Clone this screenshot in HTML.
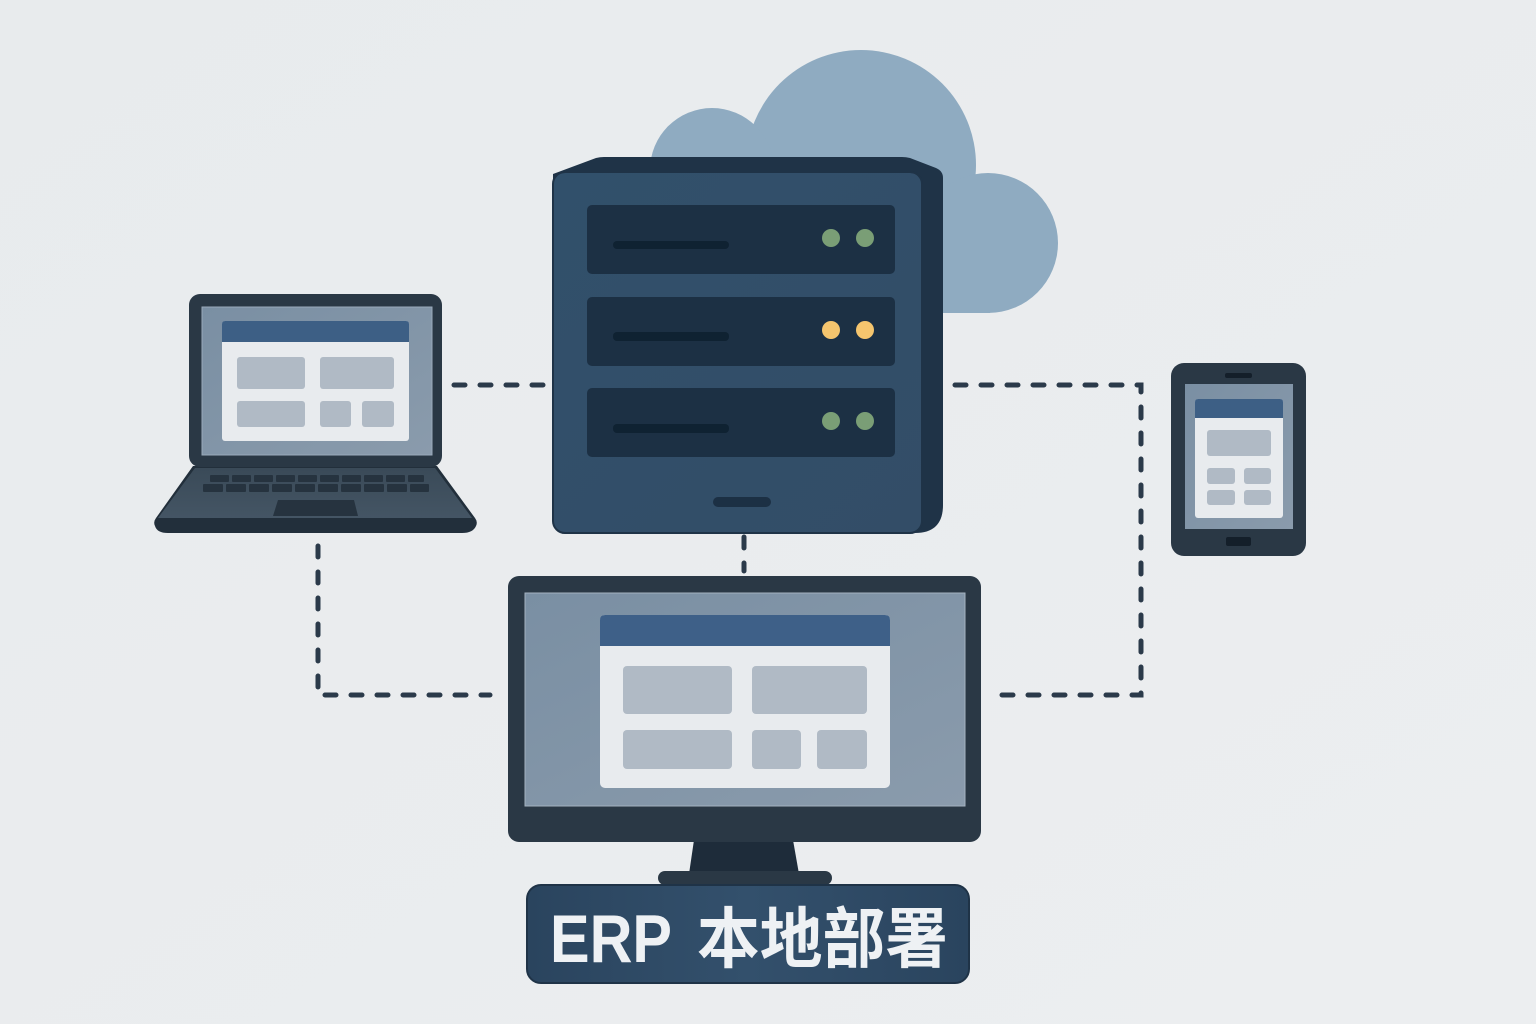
<!DOCTYPE html>
<html><head><meta charset="utf-8"><style>
html,body{margin:0;padding:0;background:#e9eced;}
svg{display:block;}
</style></head><body>
<svg width="1536" height="1024" viewBox="0 0 1536 1024" xmlns="http://www.w3.org/2000/svg">
<defs>
<linearGradient id="bg" x1="0" y1="0" x2="1" y2="1"><stop offset="0" stop-color="#e8ebed"/><stop offset="1" stop-color="#eceef0"/></linearGradient>
<linearGradient id="scr" x1="0" y1="0" x2="1" y2="1"><stop offset="0" stop-color="#7a8fa3"/><stop offset="1" stop-color="#8a9bac"/></linearGradient>
<linearGradient id="face" x1="0" y1="0" x2="1" y2="1"><stop offset="0" stop-color="#31506b"/><stop offset="1" stop-color="#334d67"/></linearGradient>
<linearGradient id="lbl" x1="0" y1="0" x2="1" y2="0"><stop offset="0" stop-color="#2a445e"/><stop offset="0.5" stop-color="#33506c"/><stop offset="1" stop-color="#2a445e"/></linearGradient>
<linearGradient id="kb" x1="0" y1="0" x2="0" y2="1"><stop offset="0" stop-color="#3a4a58"/><stop offset="1" stop-color="#445564"/></linearGradient>
</defs>
<rect width="1536" height="1024" fill="url(#bg)"/>

<!-- cloud -->
<g fill="#8fabc1">
<circle cx="861" cy="165" r="115"/>
<circle cx="712" cy="170" r="62"/>
<circle cx="988" cy="243" r="70"/>
<rect x="650" y="200" width="340" height="113"/>
</g>

<!-- dashed connectors -->
<g fill="none" stroke="#2b3a4a" stroke-width="5" stroke-linecap="round" stroke-dasharray="11 15">
<path d="M454 385 H543"/>
<path d="M955 385 H1141 V695 H995"/>
<path d="M318 546 V695 H490"/>
<path d="M744 537 V571"/>
</g>

<!-- server -->
<path d="M553 174 L596 158 Q600 157 604 157 L902 157 Q906 157 910 158 L936 168 Q943 171 943 178 L943 505 Q943 533 915 533 L565 533 Q553 533 553 521 Z" fill="#1f3347"/>
<rect x="553" y="173" width="369" height="360" rx="12" fill="url(#face)"/>
<rect x="553" y="172" width="369" height="361" rx="12" fill="none" stroke="#1f3347" stroke-width="2"/>
<g fill="#1c3044">
<rect x="587" y="205" width="308" height="69" rx="5"/>
<rect x="587" y="297" width="308" height="69" rx="5"/>
<rect x="587" y="388" width="308" height="69" rx="5"/>
<rect x="713" y="497" width="58" height="10" rx="5"/>
</g>
<g fill="#0f2232">
<rect x="613" y="241" width="116" height="8" rx="4"/>
<rect x="613" y="332" width="116" height="9" rx="4"/>
<rect x="613" y="424" width="116" height="9" rx="4"/>
</g>
<g>
<circle cx="831" cy="238" r="9" fill="#7a9e76"/><circle cx="865" cy="238" r="9" fill="#7a9e76"/>
<circle cx="831" cy="330" r="9" fill="#f5c56e"/><circle cx="865" cy="330" r="9" fill="#f5c56e"/>
<circle cx="831" cy="421" r="9" fill="#7a9e76"/><circle cx="865" cy="421" r="9" fill="#7a9e76"/>
</g>

<!-- laptop -->
<path d="M193 466 L437 466 L475 518 Q478 522 476 526 Q473 533 462 533 L168 533 Q157 533 155 526 Q153 522 156 518 Z" fill="#222f3b"/>
<path d="M195 468 L435 468 L472 518 L158 518 Z" fill="url(#kb)"/>
<g fill="#26333f">
<rect x="210" y="475" width="19" height="7" rx="1"/><rect x="232" y="475" width="19" height="7" rx="1"/><rect x="254" y="475" width="19" height="7" rx="1"/><rect x="276" y="475" width="19" height="7" rx="1"/><rect x="298" y="475" width="19" height="7" rx="1"/><rect x="320" y="475" width="19" height="7" rx="1"/><rect x="342" y="475" width="19" height="7" rx="1"/><rect x="364" y="475" width="19" height="7" rx="1"/><rect x="386" y="475" width="19" height="7" rx="1"/><rect x="408" y="475" width="16" height="7" rx="1"/>
<rect x="203" y="484" width="20" height="8" rx="1"/><rect x="226" y="484" width="20" height="8" rx="1"/><rect x="249" y="484" width="20" height="8" rx="1"/><rect x="272" y="484" width="20" height="8" rx="1"/><rect x="295" y="484" width="20" height="8" rx="1"/><rect x="318" y="484" width="20" height="8" rx="1"/><rect x="341" y="484" width="20" height="8" rx="1"/><rect x="364" y="484" width="20" height="8" rx="1"/><rect x="387" y="484" width="20" height="8" rx="1"/><rect x="410" y="484" width="19" height="8" rx="1"/>
<path d="M278 500 L354 500 L358 516 L273 516 Z"/>
</g>
<rect x="189" y="294" width="253" height="173" rx="11" fill="#2a3845"/>
<rect x="202" y="307" width="230" height="148" fill="url(#scr)" stroke="#9aaabb" stroke-width="1"/>
<rect x="222" y="321" width="187" height="120" rx="3" fill="#e8ebee"/>
<path d="M225 321 H406 Q409 321 409 324 V342 H222 V324 Q222 321 225 321 Z" fill="#3d5f85"/>
<g fill="#b0bac5">
<rect x="237" y="357" width="68" height="32" rx="3"/><rect x="320" y="357" width="74" height="32" rx="3"/>
<rect x="237" y="401" width="68" height="26" rx="3"/><rect x="320" y="401" width="31" height="26" rx="3"/><rect x="362" y="401" width="32" height="26" rx="3"/>
</g>

<!-- phone -->
<rect x="1171" y="363" width="135" height="193" rx="13" fill="#2a3845"/>
<rect x="1185" y="384" width="108" height="145" fill="url(#scr)"/>
<rect x="1195" y="399" width="88" height="119" rx="3" fill="#e8ebee"/>
<path d="M1198 399 H1280 Q1283 399 1283 402 V418 H1195 V402 Q1195 399 1198 399 Z" fill="#3d5f85"/>
<g fill="#b0bac5">
<rect x="1207" y="430" width="64" height="26" rx="3"/>
<rect x="1207" y="468" width="28" height="16" rx="3"/><rect x="1244" y="468" width="27" height="16" rx="3"/>
<rect x="1207" y="490" width="28" height="15" rx="3"/><rect x="1244" y="490" width="27" height="15" rx="3"/>
</g>
<rect x="1225" y="373" width="27" height="5" rx="2" fill="#141f2a"/>
<rect x="1226" y="537" width="25" height="9" rx="2" fill="#141f2a"/>

<!-- monitor -->
<path d="M694 840 L793 840 L799 874 L689 874 Z" fill="#1e2c3a"/>
<rect x="658" y="871" width="174" height="14" rx="7" fill="#2a3845"/>
<rect x="508" y="576" width="473" height="266" rx="11" fill="#2a3845"/>
<rect x="525" y="593" width="440" height="213" fill="url(#scr)" stroke="#a4b2c0" stroke-width="1"/>
<rect x="600" y="615" width="290" height="173" rx="5" fill="#e8ebee"/>
<path d="M605 615 H885 Q890 615 890 620 V646 H600 V620 Q600 615 605 615 Z" fill="#3e6088"/>
<g fill="#b0bac5">
<rect x="623" y="666" width="109" height="48" rx="4"/><rect x="752" y="666" width="115" height="48" rx="4"/>
<rect x="623" y="730" width="109" height="39" rx="4"/><rect x="752" y="730" width="49" height="39" rx="4"/><rect x="817" y="730" width="50" height="39" rx="4"/>
</g>

<!-- label -->
<rect x="527" y="885" width="442" height="98" rx="14" fill="url(#lbl)" stroke="#1f3347" stroke-width="2"/>
<text x="550" y="962" font-family="'Liberation Sans', sans-serif" font-weight="bold" font-size="68" fill="#eef1f4" textLength="122" lengthAdjust="spacingAndGlyphs">ERP</text>
<text x="697" y="962" font-family="'Liberation Sans', 'Noto Sans CJK SC', sans-serif" font-weight="bold" font-size="66" fill="#eef1f4" textLength="251" lengthAdjust="spacingAndGlyphs">本地部署</text>
</svg>
</body></html>
